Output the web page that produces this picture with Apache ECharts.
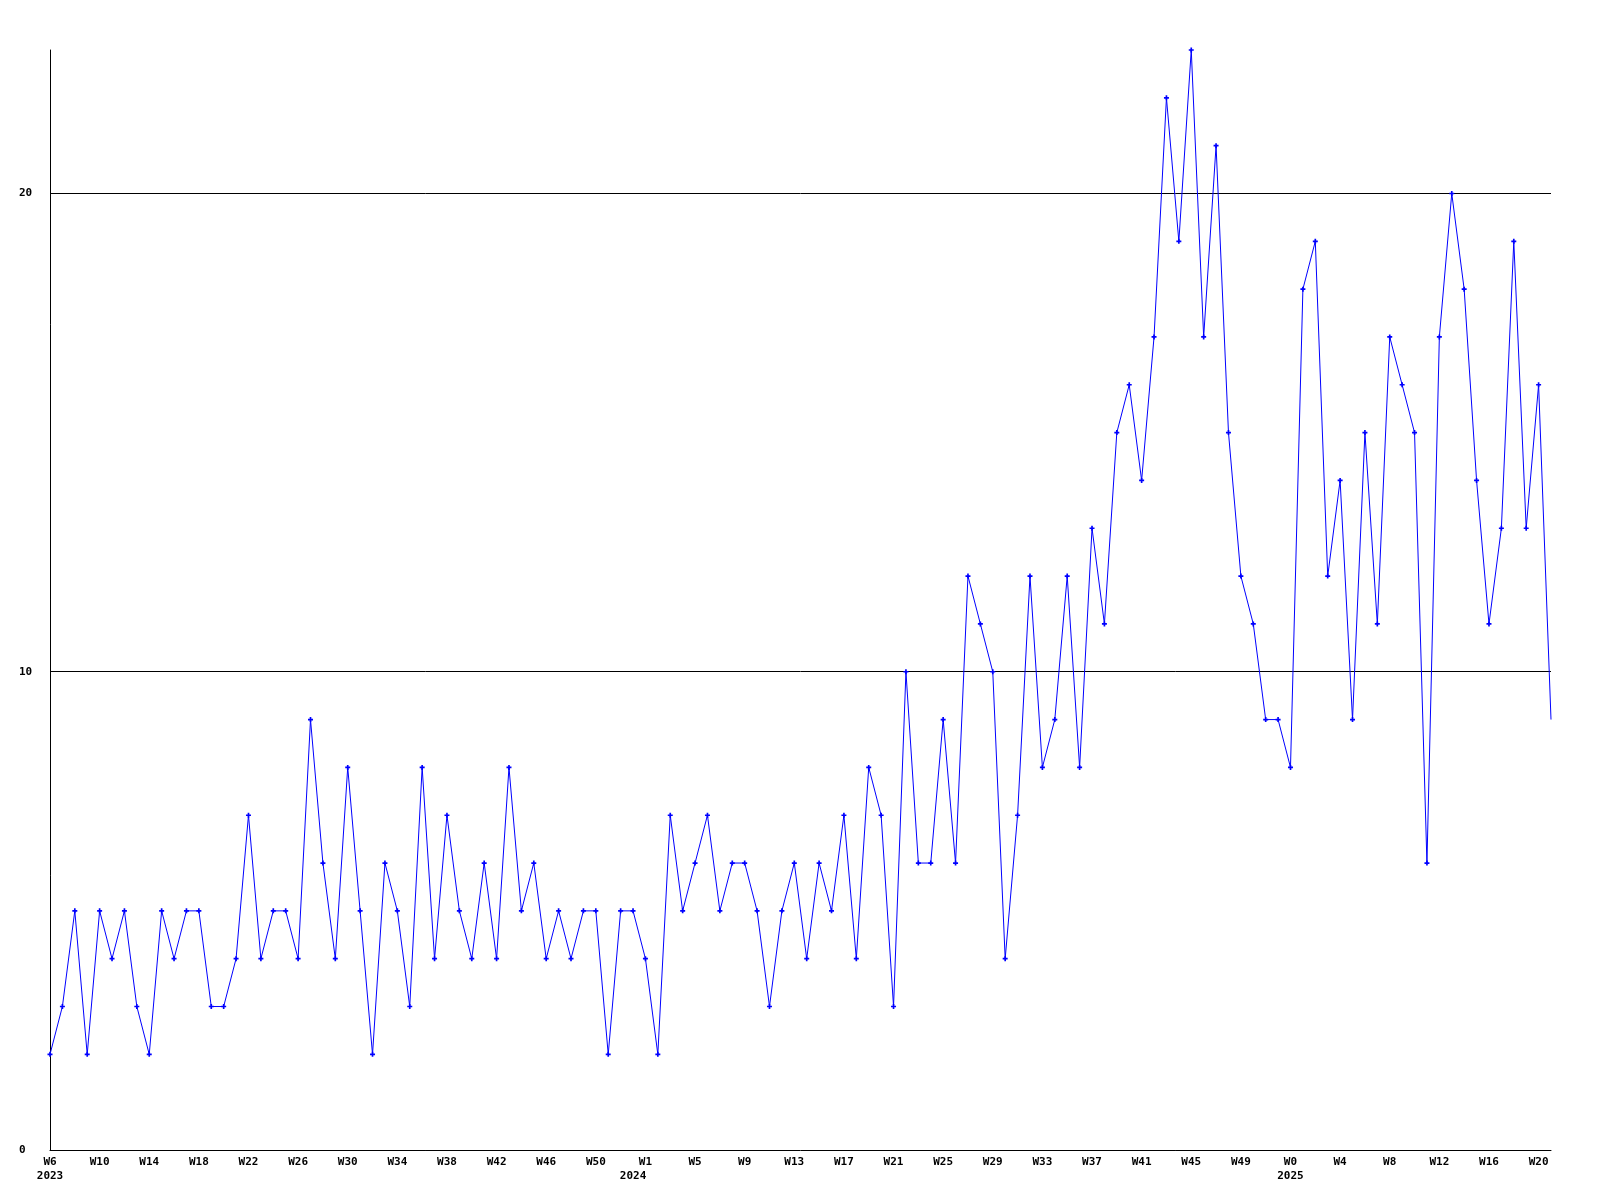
<!DOCTYPE html>
<html>
<head>
<meta charset="utf-8">
<script src="https://cdn.jsdelivr.net/npm/echarts@6/dist/echarts.min.js"></script>
<style>
html,body{margin:0;padding:0;background:#ffffff;}
#chart{width:1600px;height:1200px;}
</style>
</head>
<body>
<div id="chart"></div>
<script>
// Week tick labels (every 4th weekly point)
const weekTickLabels = ['W6','W10','W14','W18','W22','W26','W30','W34','W38','W42','W46','W50',
  'W1','W5','W9','W13','W17','W21','W25','W29','W33','W37','W41','W45','W49',
  'W0','W4','W8','W12','W16','W20'];
// Year labels and the weekly point index they sit under
const yearLabels = ['2023','2024','2025'];
const yearTickIndex = [0, 47, 100];
// Weekly counts, from W6 2023 to W20 2025
const counts = [
  2,3,5,2,5,4,5,3,2,5,4,5,5,3,3,4,7,4,5,5,4,9,
  6,4,8,5,2,6,5,3,8,4,7,5,4,6,4,8,5,6,4,5,4,
  5,5,2,5,5,4,2,7,5,6,7,5,6,
  6,5,3,5,6,4,6,5,7,4,8,7,3,10,6,6,9,6,12,11,10,4,7,
  12,8,9,12,8,13,11,15,16,14,17,22,19,23,17,21,15,12,11,9,9,8,
  18,19,12,14,9,15,11,17,16,15,6,17,20,18,14,11,13,19,13,16,9
];
const yLabelValues = [0, 10, 20];

const lastIdx = counts.length - 1;
const seriesData = counts.map((v, i) => i === lastIdx ? {value: [i, v], symbolSize: 0} : [i, v]);

const font = {fontFamily: 'DejaVu Sans Mono', fontWeight: 'bold', fontSize: 11, color: '#000'};

const chart = echarts.init(document.getElementById('chart'), null, {renderer: 'canvas'});
chart.setOption({
  animation: false,
  backgroundColor: '#ffffff',
  grid: {left: 50, right: 49, top: 50, bottom: 50},
  xAxis: [{
    type: 'value',
    min: 0,
    max: lastIdx,
    interval: 4,
    axisLine: {show: true, lineStyle: {color: '#000', width: 1}},
    axisTick: {show: false},
    splitLine: {show: false},
    axisLabel: Object.assign({
      margin: 7,
      showMaxLabel: false,
      formatter: function (v) {
        if (v % 4 !== 0) return '';
        const s = weekTickLabels[v / 4];
        return s === undefined ? '' : s;
      }
    }, font)
  }, {
    type: 'value',
    min: 0,
    max: lastIdx,
    position: 'bottom',
    axisLine: {show: false},
    axisTick: {show: false},
    splitLine: {show: false},
    axisLabel: Object.assign({
      margin: 21,
      customValues: yearTickIndex,
      formatter: function (v) {
        const k = yearTickIndex.indexOf(v);
        return k < 0 ? '' : yearLabels[k];
      }
    }, font)
  }],
  yAxis: {
    type: 'value',
    min: 0,
    max: 23,
    interval: 10,
    axisLine: {show: true, lineStyle: {color: '#000', width: 1}},
    axisTick: {show: false},
    splitLine: {show: true, showMinLine: false, showMaxLine: false, lineStyle: {color: '#000', width: 1}},
    axisLabel: Object.assign({
      margin: 31,
      align: 'left',
      customValues: yLabelValues,
      formatter: function (v) { return yLabelValues.indexOf(v) >= 0 ? String(v) : ''; }
    }, font)
  },
  series: [{
    type: 'line',
    xAxisIndex: 0,
    data: seriesData,
    symbol: 'path://M1,0H2V1H3V2H2V3H1V2H0V1H1Z',
    symbolSize: 5,
    showAllSymbol: true,
    itemStyle: {color: '#0000ff'},
    lineStyle: {color: '#0000ff', width: 1},
    clip: true,
    z: 3
  }]
});
</script>
</body>
</html>
